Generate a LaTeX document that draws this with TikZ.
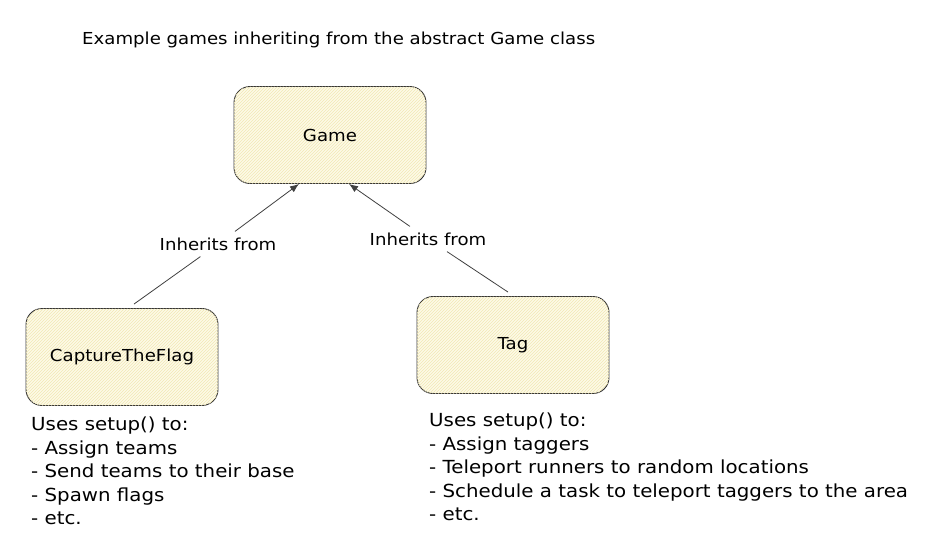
\documentclass[tikz,border=0pt]{standalone}
\usepackage{fontspec}
\setmainfont[FakeStretch=1.1]{DejaVu Sans}
\usetikzlibrary{arrows.meta,patterns}
\definecolor{boxfill}{RGB}{253,250,232}
\definecolor{hatch}{RGB}{242,232,180}
\tikzset{
  classbox/.style={draw=black!80,line width=0.9pt,rounded corners=16pt,fill=boxfill,
    postaction={pattern=north east lines,pattern color=hatch},
    minimum width=192pt,minimum height=97pt,font=\fontsize{16.5}{19}\selectfont},
  inhlabel/.style={inner sep=6pt,font=\fontsize{16.5}{19}\selectfont},
  usesnote/.style={anchor=north west,align=left,inner sep=0pt,
    font=\fontsize{18}{23.5}\selectfont},
  inhline/.style={draw=black!75,line width=0.8pt}
}

\begin{document}
\begin{tikzpicture}[x=1pt,y=-1pt]
\path[use as bounding box,fill=white] (0,0) rectangle (940,547);
\node[anchor=west,inner sep=0pt,font=\fontsize{16.5}{19}\selectfont] (title) at (82,40) {Example games inheriting from the abstract Game class};
\node[classbox] (game) at (330,135) {Game};
\node[classbox] (ctf) at (122,357) {CaptureTheFlag};
\node[classbox] (tag) at (513,345) {Tag};
\node[inhlabel] (inhL) at (218,244) {Inherits from};
\node[inhlabel] (inhR) at (428,239) {Inherits from};
\coordinate (ctfTop) at ([xshift=12pt,yshift=4pt]ctf.north);
\coordinate (tagTop) at ([xshift=-5pt,yshift=4pt]tag.north);
\coordinate (gameL) at ([xshift=-31pt]game.south);
\coordinate (gameR) at ([xshift=19pt]game.south);
\draw[inhline] (ctfTop) -- (inhL);
\draw[inhline,-{Latex[length=9pt,width=7pt]}] (inhL) -- (gameL);
\draw[inhline] (tagTop) -- (inhR);
\draw[inhline,-{Latex[length=9pt,width=7pt]}] (inhR) -- (gameR);
\node[usesnote] (ctfNote) at (31,417) {Uses setup() to:\\- Assign teams\\- Send teams to their base\\- Spawn flags\\- etc.};
\node[usesnote] (tagNote) at (429,413) {Uses setup() to:\\- Assign taggers\\- Teleport runners to random locations\\- Schedule a task to teleport taggers to the area\\- etc.};
\end{tikzpicture}
\end{document}
